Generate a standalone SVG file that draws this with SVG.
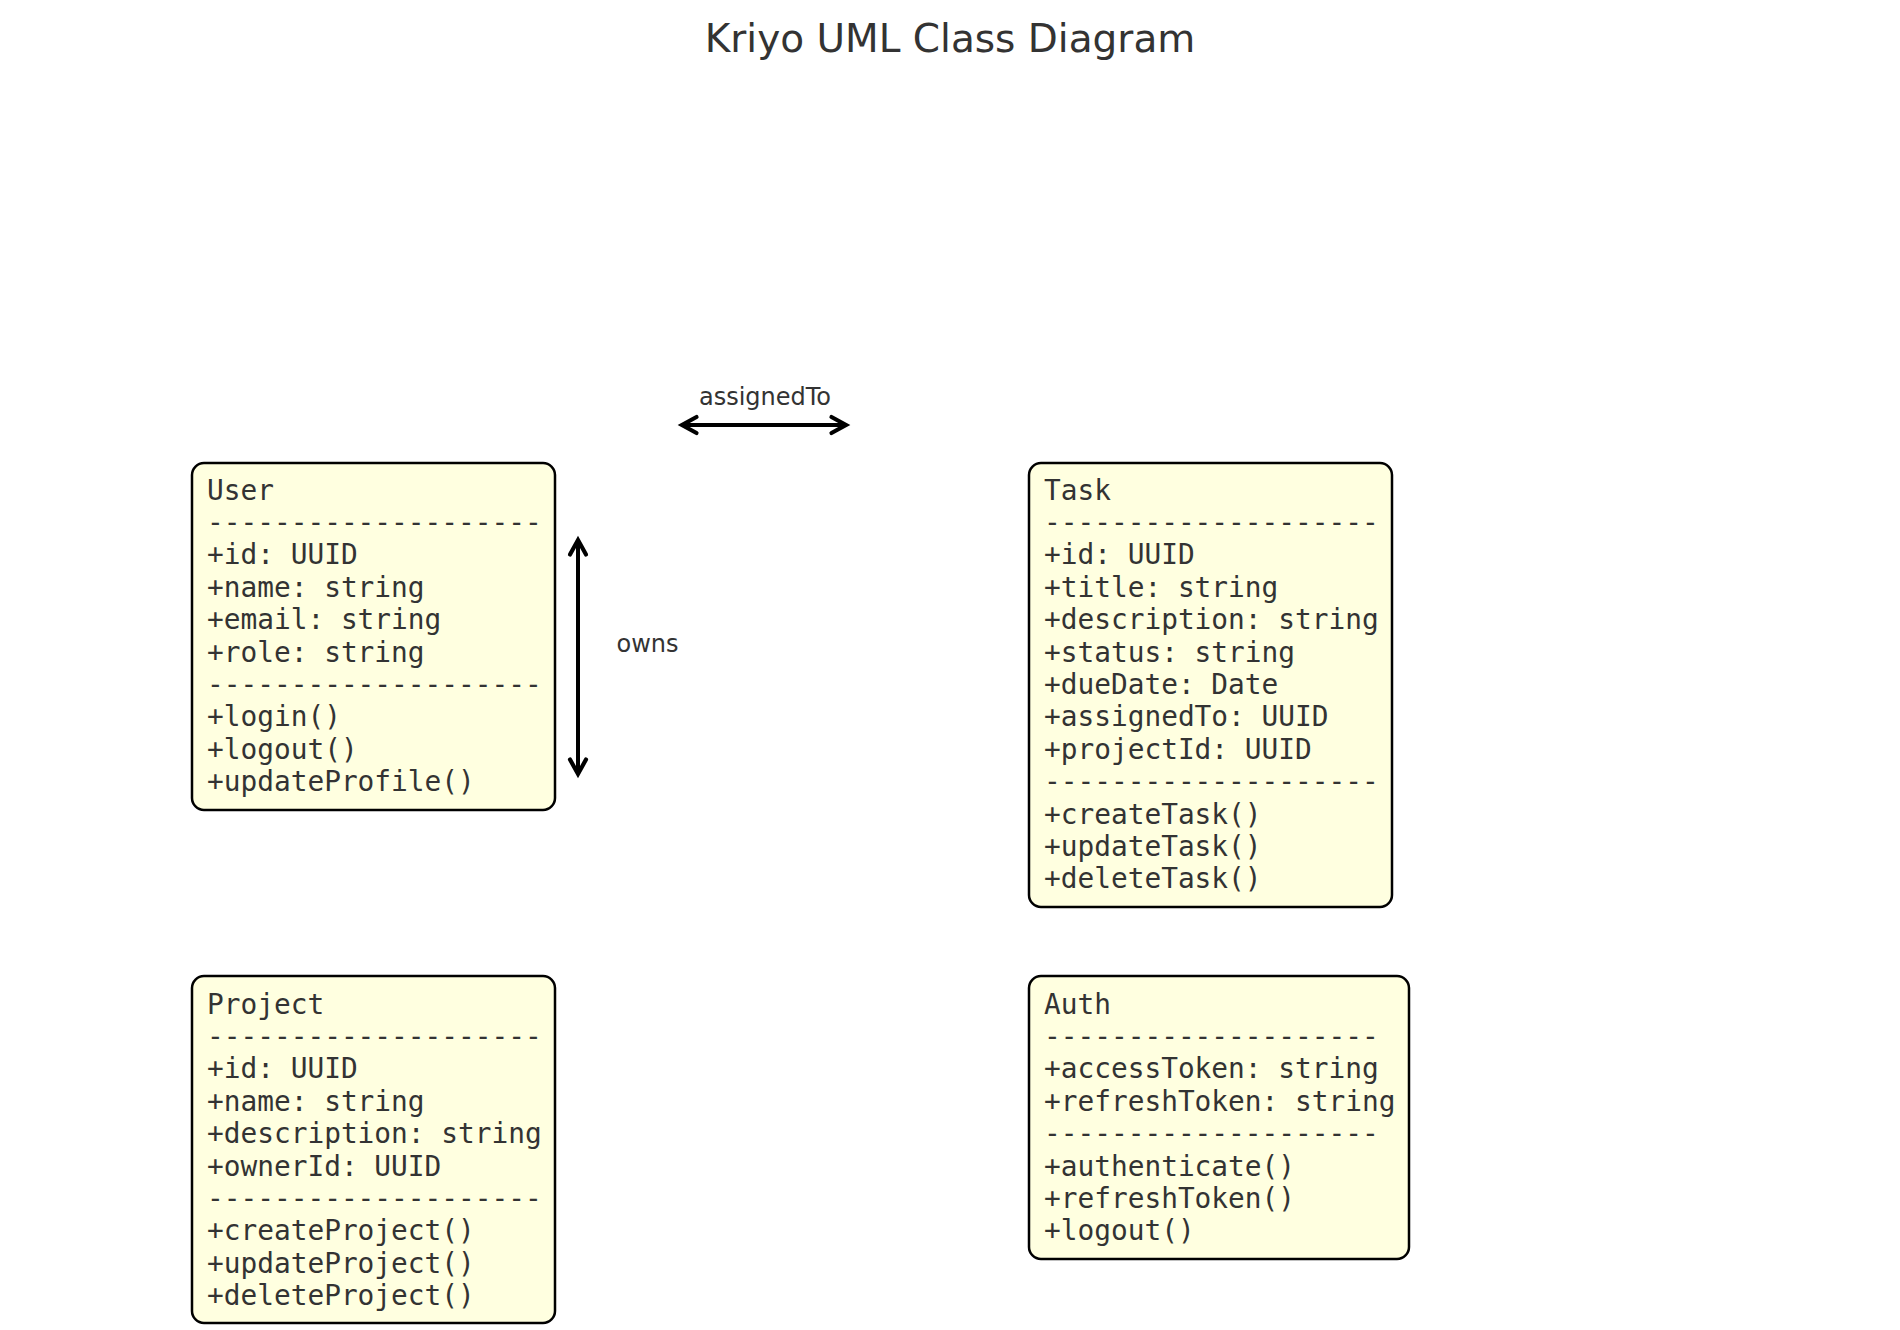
<svg xmlns="http://www.w3.org/2000/svg" width="1900" height="1330" viewBox="0 0 1900 1330">
<style>
.box{fill:#ffffe0;stroke:#000;stroke-width:2.5}
.cls{font-family:"DejaVu Sans Mono",monospace;font-size:27.8px;fill:#333}
.lbl{font-family:"DejaVu Sans",sans-serif;font-size:24px;fill:#333}
.title{font-family:"DejaVu Sans",sans-serif;font-size:39px;fill:#333}
.conn{stroke:#000;stroke-width:4;fill:none}
</style>
<defs>
<marker id="ah" markerUnits="userSpaceOnUse" markerWidth="40" markerHeight="40" refX="0" refY="0" viewBox="-20 -20 40 40" orient="auto-start-reverse" overflow="visible">
<path d="M-14.5,-8 L0,0 L-14.5,8" fill="none" stroke="#000" stroke-width="4.2" stroke-linecap="round" stroke-linejoin="miter"/>
</marker>
</defs>
<rect width="1900" height="1330" fill="#fff"/>
<text class="title" x="950" y="51.5" text-anchor="middle">Kriyo UML Class Diagram</text>

<g id="connectors">
<line class="conn" x1="682" y1="425" x2="846" y2="425" marker-start="url(#ah)" marker-end="url(#ah)"/>
<text class="lbl" x="765" y="405" text-anchor="middle">assignedTo</text>
<line class="conn" x1="578" y1="540" x2="578" y2="774" marker-start="url(#ah)" marker-end="url(#ah)"/>
<text class="lbl" x="647.5" y="652" text-anchor="middle">owns</text>
</g>

<g id="User">
<rect class="box" x="192" y="463" width="363" height="347" rx="12"/>
<text class="cls" x="207" y="499.5">
<tspan x="207" dy="0">User</tspan>
<tspan x="207" dy="32.4">--------------------</tspan>
<tspan x="207" dy="32.4">+id: UUID</tspan>
<tspan x="207" dy="32.4">+name: string</tspan>
<tspan x="207" dy="32.4">+email: string</tspan>
<tspan x="207" dy="32.4">+role: string</tspan>
<tspan x="207" dy="32.4">--------------------</tspan>
<tspan x="207" dy="32.4">+login()</tspan>
<tspan x="207" dy="32.4">+logout()</tspan>
<tspan x="207" dy="32.4">+updateProfile()</tspan>
</text>
</g>

<g id="Task">
<rect class="box" x="1029" y="463" width="363" height="444" rx="12"/>
<text class="cls" x="1044" y="499.5">
<tspan x="1044" dy="0">Task</tspan>
<tspan x="1044" dy="32.4">--------------------</tspan>
<tspan x="1044" dy="32.4">+id: UUID</tspan>
<tspan x="1044" dy="32.4">+title: string</tspan>
<tspan x="1044" dy="32.4">+description: string</tspan>
<tspan x="1044" dy="32.4">+status: string</tspan>
<tspan x="1044" dy="32.4">+dueDate: Date</tspan>
<tspan x="1044" dy="32.4">+assignedTo: UUID</tspan>
<tspan x="1044" dy="32.4">+projectId: UUID</tspan>
<tspan x="1044" dy="32.4">--------------------</tspan>
<tspan x="1044" dy="32.4">+createTask()</tspan>
<tspan x="1044" dy="32.4">+updateTask()</tspan>
<tspan x="1044" dy="32.4">+deleteTask()</tspan>
</text>
</g>

<g id="Project">
<rect class="box" x="192" y="976" width="363" height="347" rx="12"/>
<text class="cls" x="207" y="1013.5">
<tspan x="207" dy="0">Project</tspan>
<tspan x="207" dy="32.4">--------------------</tspan>
<tspan x="207" dy="32.4">+id: UUID</tspan>
<tspan x="207" dy="32.4">+name: string</tspan>
<tspan x="207" dy="32.4">+description: string</tspan>
<tspan x="207" dy="32.4">+ownerId: UUID</tspan>
<tspan x="207" dy="32.4">--------------------</tspan>
<tspan x="207" dy="32.4">+createProject()</tspan>
<tspan x="207" dy="32.4">+updateProject()</tspan>
<tspan x="207" dy="32.4">+deleteProject()</tspan>
</text>
</g>

<g id="Auth">
<rect class="box" x="1029" y="976" width="380" height="283" rx="12"/>
<text class="cls" x="1044" y="1013.5">
<tspan x="1044" dy="0">Auth</tspan>
<tspan x="1044" dy="32.4">--------------------</tspan>
<tspan x="1044" dy="32.4">+accessToken: string</tspan>
<tspan x="1044" dy="32.4">+refreshToken: string</tspan>
<tspan x="1044" dy="32.4">--------------------</tspan>
<tspan x="1044" dy="32.4">+authenticate()</tspan>
<tspan x="1044" dy="32.4">+refreshToken()</tspan>
<tspan x="1044" dy="32.4">+logout()</tspan>
</text>
</g>
</svg>
